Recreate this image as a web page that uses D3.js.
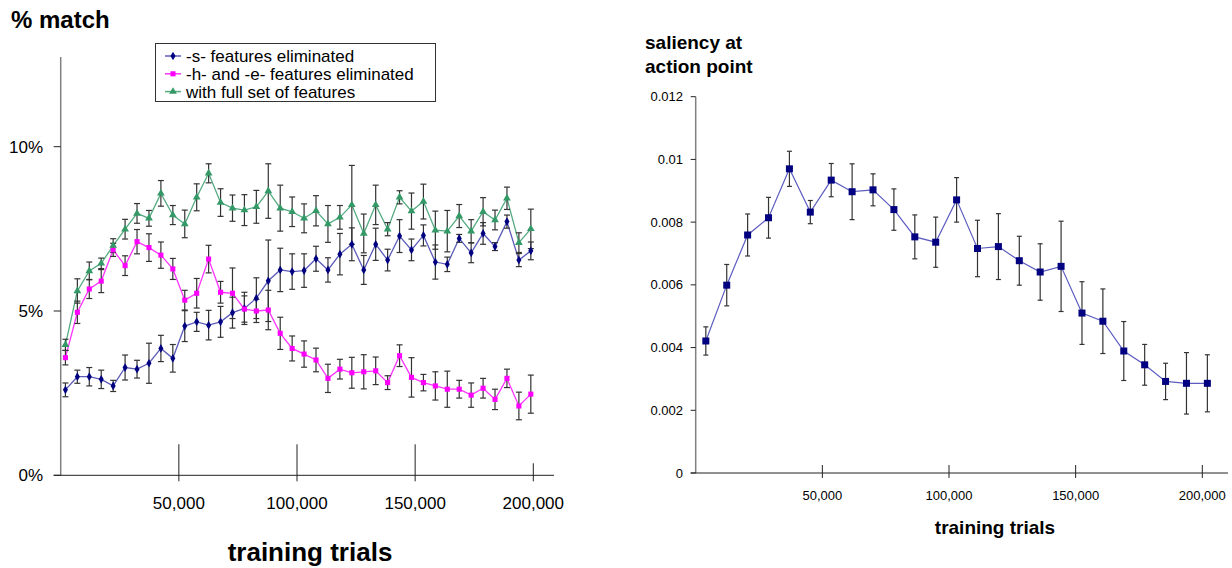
<!DOCTYPE html>
<html>
<head>
<meta charset="utf-8">
<script src="https://cdn.jsdelivr.net/npm/d3@7"></script>
<style>
  body { margin: 0; background: #fff; }
  svg { display: block; font-family: "Liberation Sans", Arial, sans-serif; }
</style>
</head>
<body>
<svg id="chart" width="1232" height="568"></svg>
<script>
// left chart: % match vs training trials
var trialsL = [2000, 7050, 12100, 17150, 22200, 27250, 32300, 37350, 42400, 47450,
  52500, 57550, 62600, 67650, 72700, 77750, 82800, 87850, 92900, 97950,
  103000, 108050, 113100, 118150, 123200, 128250, 133300, 138350, 143400, 148450,
  153500, 158550, 163600, 168650, 173700, 178750, 183800, 188850, 193900, 198950];

var sElim = [2.60, 3.00, 3.00, 2.92, 2.72, 3.28, 3.23, 3.41, 3.86, 3.56,
  4.54, 4.67, 4.57, 4.67, 4.95, 5.08, 5.39, 5.92, 6.25, 6.20,
  6.23, 6.59, 6.25, 6.73, 7.03, 6.25, 7.03, 6.55, 7.28, 6.86,
  7.30, 6.49, 6.42, 7.21, 6.77, 7.36, 6.96, 7.72, 6.55, 6.83];
var sErr = [0.21, 0.20, 0.28, 0.28, 0.17, 0.38, 0.27, 0.61, 0.40, 0.42,
  0.47, 0.29, 0.45, 0.47, 0.47, 0.49, 0.62, 1.24, 0.66, 0.54,
  0.51, 0.38, 0.37, 0.63, 0.50, 0.44, 0.49, 0.33, 0.50, 0.33,
  0.32, 0.52, 0.22, 0.12, 0.30, 0.33, 0.12, 0.20, 0.20, 0.27];

var heElim = [3.58, 4.96, 5.67, 5.91, 6.86, 6.38, 7.11, 6.93, 6.70, 6.28,
  5.33, 5.54, 6.58, 5.57, 5.54, 5.06, 5.00, 5.03, 4.32, 3.86,
  3.69, 3.51, 2.95, 3.23, 3.12, 3.15, 3.18, 2.82, 3.64, 2.98,
  2.82, 2.72, 2.62, 2.62, 2.44, 2.65, 2.31, 2.95, 2.11, 2.47];
var heErr = [0.22, 0.34, 0.29, 0.35, 0.20, 0.30, 0.37, 0.42, 0.40, 0.32,
  0.30, 0.45, 0.42, 0.33, 0.77, 0.40, 0.35, 0.60, 0.49, 0.38,
  0.40, 0.36, 0.43, 0.30, 0.47, 0.52, 0.42, 0.21, 0.33, 0.60,
  0.25, 0.43, 0.55, 0.27, 0.37, 0.30, 0.31, 0.28, 0.42, 0.58];

var fullSet = [3.97, 5.61, 6.22, 6.45, 6.99, 7.49, 7.97, 7.82, 8.58, 7.92,
  7.65, 8.46, 9.19, 8.30, 8.13, 8.07, 8.17, 8.65, 8.13, 8.02,
  7.82, 8.05, 7.65, 7.85, 8.23, 7.36, 8.23, 7.49, 8.46, 8.04,
  8.33, 7.46, 7.43, 7.89, 7.43, 8.02, 7.77, 8.43, 7.08, 7.50];
var fullErr = [0.17, 0.37, 0.27, 0.16, 0.21, 0.30, 0.30, 0.24, 0.39, 0.29,
  0.42, 0.41, 0.29, 0.42, 0.40, 0.47, 0.50, 0.83, 0.70, 0.45,
  0.44, 0.46, 0.56, 0.36, 1.20, 0.59, 0.60, 0.20, 0.20, 0.55,
  0.53, 0.58, 0.63, 0.35, 0.35, 0.43, 0.30, 0.34, 0.30, 0.60];

var seriesNames = ["-s- features eliminated", "-h- and -e- features eliminated", "with full set of features"];
var leftYTicks = [0, 5, 10];
var leftXTicks = [50000, 100000, 150000, 200000];

// right chart: saliency at action point
var trialsR = [4000, 12250, 20500, 28750, 37000, 45250, 53500, 61750, 70000, 78250,
  86500, 94750, 103000, 111250, 119500, 127750, 136000, 144250, 152500, 160750,
  169000, 177250, 185500, 193750, 202000];
var saliency = [0.00421, 0.00599, 0.00759, 0.00814, 0.00970, 0.00832, 0.00934, 0.00897, 0.00903, 0.00840,
  0.00753, 0.00736, 0.00871, 0.00716, 0.00722, 0.00677, 0.00641, 0.00659, 0.00510, 0.00484,
  0.00389, 0.00345, 0.00292, 0.00286, 0.00286];
var salErr = [0.00045, 0.00066, 0.00067, 0.00065, 0.00056, 0.00037, 0.00053, 0.00089, 0.00051, 0.00066,
  0.00070, 0.00080, 0.00071, 0.00090, 0.00105, 0.00078, 0.00090, 0.00144, 0.00100, 0.00103,
  0.00094, 0.00065, 0.00058, 0.00098, 0.00091];
var rightYTicks = [0, 0.002, 0.004, 0.006, 0.008, 0.01, 0.012];
var rightXTicks = [50000, 100000, 150000, 200000];

var svg = d3.select("#chart");
var fmtK = d3.format(",");

// ---------- left chart ----------
var xL = d3.scaleLinear().domain([0, 200000]).range([60.7, 533.3]);
var yL = d3.scaleLinear().domain([0, 10]).range([475.3, 146.7]);

var left = svg.append("g");

left.append("text")
  .attr("x", 11).attr("y", 28)
  .attr("font-size", 24).attr("font-weight", "bold")
  .text("% match");

// y axis
left.append("line")
  .attr("x1", xL(0)).attr("x2", xL(0))
  .attr("y1", yL(12.73)).attr("y2", yL(0))
  .attr("stroke", "#808080").attr("stroke-width", 1.5);
left.selectAll(".ytick").data(leftYTicks).enter().append("line")
  .attr("x1", xL(0) - 7).attr("x2", xL(0))
  .attr("y1", d => yL(d)).attr("y2", d => yL(d))
  .attr("stroke", "#222");
left.selectAll(".ylab").data(leftYTicks).enter().append("text")
  .attr("x", 43).attr("y", d => yL(d) + 6)
  .attr("text-anchor", "end").attr("font-size", 17)
  .text(d => d + "%");

// x axis
left.append("line")
  .attr("x1", xL(0) - 7).attr("x2", 554)
  .attr("y1", yL(0)).attr("y2", yL(0))
  .attr("stroke", "#222");
left.selectAll(".xtick").data(leftXTicks).enter().append("line")
  .attr("x1", d => xL(d)).attr("x2", d => xL(d))
  .attr("y1", d => d === 200000 ? yL(0) - 12 : yL(0) - 31)
  .attr("y2", yL(0) + 6)
  .attr("stroke", "#222");
left.selectAll(".xlab").data(leftXTicks).enter().append("text")
  .attr("x", d => xL(d)).attr("y", 509)
  .attr("text-anchor", "middle").attr("font-size", 17)
  .text(d => fmtK(d));
left.append("text")
  .attr("x", 310).attr("y", 561)
  .attr("text-anchor", "middle").attr("font-size", 26).attr("font-weight", "bold")
  .text("training trials");

var leftSeries = [
  { vals: sElim, err: sErr, line: "#5c5cb8", mark: "#000080", shape: d3.symbolDiamond, size: 22 },
  { vals: heElim, err: heErr, line: "#ff33ff", mark: "#ff00ff", shape: d3.symbolSquare, size: 26 },
  { vals: fullSet, err: fullErr, line: "#55aa80", mark: "#339966", shape: d3.symbolTriangle, size: 26 }
];

var lineL = d3.line().x((d, i) => xL(trialsL[i])).y(d => yL(d));

leftSeries.forEach(function (s) {
  left.append("path")
    .attr("d", lineL(s.vals))
    .attr("fill", "none").attr("stroke", s.line).attr("stroke-width", 1.3);
});

function errorBars(g, xs, vals, errs, xs2, ys, cap) {
  var eb = g.append("g").attr("stroke", "#333").attr("stroke-width", 1.2);
  vals.forEach(function (v, i) {
    var x = xs2(xs[i]), y1 = ys(v - errs[i]), y2 = ys(v + errs[i]);
    eb.append("line").attr("x1", x).attr("x2", x).attr("y1", y1).attr("y2", y2);
    eb.append("line").attr("x1", x - cap).attr("x2", x + cap).attr("y1", y1).attr("y2", y1);
    eb.append("line").attr("x1", x - cap).attr("x2", x + cap).attr("y1", y2).attr("y2", y2);
  });
}

leftSeries.forEach(function (s) {
  errorBars(left, trialsL, s.vals, s.err, xL, yL, 3);
});

leftSeries.forEach(function (s) {
  left.append("g").selectAll("path").data(s.vals).enter().append("path")
    .attr("d", d3.symbol().type(s.shape).size(s.size))
    .attr("transform", (d, i) => `translate(${xL(trialsL[i])},${yL(d)})`)
    .attr("fill", s.mark);
});

// legend
var legend = left.append("g");
legend.append("rect")
  .attr("x", 155.5).attr("y", 43.5).attr("width", 280).attr("height", 58)
  .attr("fill", "#fff").attr("stroke", "#333");
leftSeries.forEach(function (s, i) {
  var ly = 56 + i * 17.8;
  legend.append("line")
    .attr("x1", 165).attr("x2", 181).attr("y1", ly).attr("y2", ly)
    .attr("stroke", s.line).attr("stroke-width", 1.5);
  legend.append("path")
    .attr("d", d3.symbol().type(s.shape).size(s.size)())
    .attr("transform", `translate(173,${ly})`)
    .attr("fill", s.mark);
  legend.append("text")
    .attr("x", 186).attr("y", ly + 6)
    .attr("font-size", 17)
    .text(seriesNames[i]);
});

// ---------- right chart ----------
var xR = d3.scaleLinear().domain([0, 200000]).range([695.7, 1202.3]);
var yR = d3.scaleLinear().domain([0, 0.012]).range([473, 96.7]);

var right = svg.append("g");

right.append("text")
  .attr("x", 645).attr("y", 49)
  .attr("font-size", 19).attr("font-weight", "bold")
  .selectAll("tspan").data(["saliency at", "action point"]).enter().append("tspan")
  .attr("x", 645).attr("dy", (d, i) => i ? 24 : 0)
  .text(d => d);

right.append("line")
  .attr("x1", xR(0)).attr("x2", xR(0))
  .attr("y1", yR(0.012)).attr("y2", yR(0))
  .attr("stroke", "#808080").attr("stroke-width", 1.5);
right.selectAll(".ytick").data(rightYTicks).enter().append("line")
  .attr("x1", xR(0) - 5).attr("x2", xR(0))
  .attr("y1", d => yR(d)).attr("y2", d => yR(d))
  .attr("stroke", "#222");
right.selectAll(".ylab").data(rightYTicks).enter().append("text")
  .attr("x", 683).attr("y", d => yR(d) + 4.5)
  .attr("text-anchor", "end").attr("font-size", 13)
  .text(d => d);

right.append("line")
  .attr("x1", xR(0) - 5).attr("x2", 1228)
  .attr("y1", yR(0)).attr("y2", yR(0))
  .attr("stroke", "#222");
right.selectAll(".xtick").data(rightXTicks).enter().append("line")
  .attr("x1", d => xR(d)).attr("x2", d => xR(d))
  .attr("y1", yR(0) - 8).attr("y2", yR(0) + 5)
  .attr("stroke", "#222");
right.selectAll(".xlab").data(rightXTicks).enter().append("text")
  .attr("x", d => xR(d)).attr("y", 500)
  .attr("text-anchor", "middle").attr("font-size", 13)
  .text(d => fmtK(d));
right.append("text")
  .attr("x", 995).attr("y", 534)
  .attr("text-anchor", "middle").attr("font-size", 19).attr("font-weight", "bold")
  .text("training trials");

var lineR = d3.line().x((d, i) => xR(trialsR[i])).y(d => yR(d));
right.append("path")
  .attr("d", lineR(saliency))
  .attr("fill", "none").attr("stroke", "#5c5cc0").attr("stroke-width", 1.2);

errorBars(right, trialsR, saliency, salErr, xR, yR, 2.5);

right.append("g").selectAll("rect").data(saliency).enter().append("rect")
  .attr("x", (d, i) => xR(trialsR[i]) - 3.5)
  .attr("y", d => yR(d) - 3.5)
  .attr("width", 7).attr("height", 7)
  .attr("fill", "#000080");
</script>
</body>
</html>
